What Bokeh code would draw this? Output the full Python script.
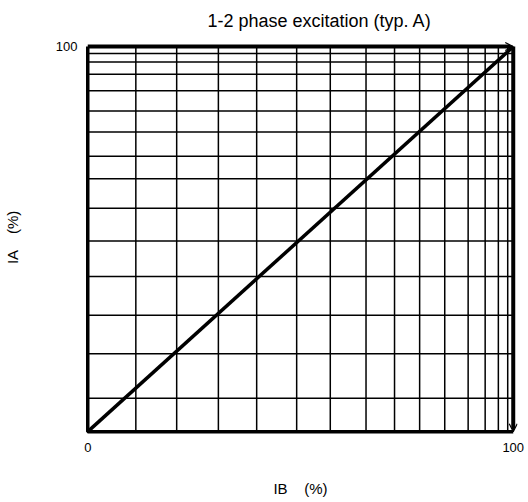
from bokeh.plotting import figure
from bokeh.models import Range1d, Arrow, OpenHead, FixedTicker
from bokeh.embed import file_html
from bokeh.resources import INLINE

# Data
ib = [0, 100]
ia = [0, 100]
grid_ib = [11.3, 20.9, 30.7, 39.7, 49.1, 57.0, 65.4, 72.1, 78.0, 83.9, 89.4, 93.4, 96.5, 98.7]
grid_ia = [8.7, 20.2, 30.2, 40.3, 49.5, 58.0, 65.7, 71.5, 77.8, 83.3, 88.5, 92.8, 96.0, 98.2]
x_ticks = [0, 100]
y_ticks = [100]
title_text = "1-2 phase excitation (typ. A)"
x_label = "IB \u00a0\u00a0 (%)"
y_label = "IA \u00a0\u00a0 (%)"

FONT = "Liberation Sans"

p = figure(width=528, height=502, output_backend="svg", toolbar_location=None,
           x_range=Range1d(-1, 101), y_range=Range1d(-1, 102.1),
           title=title_text,
           min_border_left=83, min_border_right=11, min_border_top=38, min_border_bottom=67)
p.grid.visible = False
p.outline_line_color = None
p.background_fill_color = "white"
p.border_fill_color = "white"

p.title.align = "left"
p.title.text_font = FONT
p.title.text_font_size = "18px"
p.title.text_font_style = "normal"
p.title.text_color = "black"
p.title.standoff = 16
p.title.offset = 124

for ax in (p.xaxis[0], p.yaxis[0]):
    ax.axis_line_color = None
    ax.major_tick_line_color = None
    ax.minor_tick_line_color = None
    ax.major_tick_out = 0
    ax.major_tick_in = 0
    ax.minor_tick_out = 0
    ax.minor_tick_in = 0
    ax.major_label_text_font = FONT
    ax.major_label_text_font_size = "13px"
    ax.major_label_text_color = "black"
    ax.axis_label_text_font = FONT
    ax.axis_label_text_font_size = "15px"
    ax.axis_label_text_font_style = "normal"
    ax.axis_label_text_color = "black"

p.xaxis[0].ticker = FixedTicker(ticks=x_ticks)
p.yaxis[0].ticker = FixedTicker(ticks=y_ticks)
p.xaxis[0].major_label_standoff = 7
p.yaxis[0].major_label_standoff = 6
p.xaxis[0].axis_label = x_label
p.yaxis[0].axis_label = y_label
p.xaxis[0].axis_label_standoff = 25
p.yaxis[0].axis_label_standoff = 32

n = len(grid_ib)
p.segment(x0=grid_ib, y0=[0] * n, x1=grid_ib, y1=[100] * n, line_color="black", line_width=1.5)
m = len(grid_ia)
p.segment(x0=[0] * m, y0=grid_ia, x1=[100] * m, y1=grid_ia, line_color="black", line_width=1.5)

# frame borders (left & bottom)
p.line(x=[0, 0, 100], y=[100, 0, 0], line_color="black", line_width=3.5)

# top and right borders with arrowheads
p.add_layout(Arrow(x_start=0, y_start=100, x_end=100, y_end=100, line_width=4, line_color="black",
                   end=OpenHead(size=8, line_width=1.2, line_color="black")))
p.add_layout(Arrow(x_start=100, y_start=100, x_end=100, y_end=0, line_width=4, line_color="black",
                   end=OpenHead(size=8, line_width=1.2, line_color="black")))

# diagonal characteristic
p.line(x=ib, y=ia, line_color="black", line_width=3.5)

open("out.html", "w").write(file_html(p, INLINE))
